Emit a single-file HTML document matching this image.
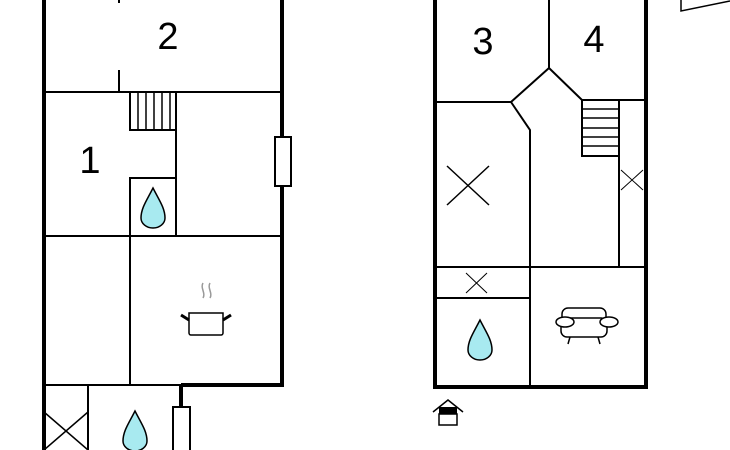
<!DOCTYPE html>
<html><head><style>body{margin:0;background:#fff}svg{display:block}text{font-family:"Liberation Sans",sans-serif;font-size:38px;fill:#000;text-anchor:middle}</style></head><body>
<svg width="730" height="450" viewBox="0 0 730 450" fill="none" stroke="#000" stroke-width="2">
<!-- LEFT PLAN -->
<line x1="44" y1="0" x2="44" y2="450" stroke-width="4"/>
<line x1="282" y1="0" x2="282" y2="387" stroke-width="4"/>
<line x1="44" y1="92" x2="282" y2="92"/>
<line x1="119" y1="0" x2="119" y2="3"/>
<line x1="119" y1="70" x2="119" y2="92"/>
<rect x="130" y="92" width="46" height="38"/>
<path d="M138 92V130M146 92V130M154 92V130M162 92V130M170 92V130" stroke-width="1.5"/>
<line x1="176" y1="92" x2="176" y2="236"/>
<rect x="130" y="178" width="46" height="58"/>
<line x1="44" y1="236" x2="282" y2="236"/>
<rect x="275" y="137" width="16" height="49" fill="#fff"/>
<line x1="130" y1="236" x2="130" y2="385"/>
<line x1="44" y1="385" x2="284" y2="385" stroke-width="2"/>
<line x1="181" y1="385" x2="284" y2="385" stroke-width="4"/>
<line x1="181" y1="384" x2="181" y2="408" stroke-width="4"/>
<rect x="173" y="407" width="17" height="45" fill="#fff"/>
<line x1="88" y1="385" x2="88" y2="450"/>
<path d="M44 412L88 450M88 412L44 450" stroke-width="1.5"/>
<text x="168" y="49" stroke="none">2</text>
<text x="90" y="173" stroke="none">1</text>
<!-- drops -->
<path d="M153 188C147 200 141 208 141 218A12 10 0 0 0 165 218C165 208 159 200 153 188Z" fill="#a8eaf0" stroke-width="1.5"/>
<path d="M135 411C129 423 123 431 123 441A12 10 0 0 0 147 441C147 431 141 423 135 411Z" fill="#a8eaf0" stroke-width="1.5"/>
<path d="M480 320C474 332 468 340 468 350A12 10 0 0 0 492 350C492 340 486 332 480 320Z" fill="#a8eaf0" stroke-width="1.5"/>
<!-- pot -->
<path d="M203 283c-3 5 3 10 0 15M210 283c-3 5 3 10 0 15" stroke="#999" stroke-width="1.5"/>
<path d="M189 313h34v20a2 2 0 0 1-2 2h-30a2 2 0 0 1-2-2z" stroke-width="1.5"/>
<path d="M189 320l-8-5M223 320l8-5" stroke-width="3"/>
<!-- RIGHT PLAN -->
<path d="M435 0V387H646V0" stroke-width="4"/>
<line x1="549" y1="0" x2="549" y2="68"/>
<path d="M435 102H511L549 68L582 100H646"/>
<path d="M511 102L530 130V267"/>
<rect x="582" y="100" width="37" height="56"/>
<path d="M582 109H619M582 118H619M582 128H619M582 137H619M582 146H619" stroke-width="1.5"/>
<line x1="619" y1="100" x2="619" y2="267"/>
<path d="M621 170L643 190M643 170L621 190" stroke-width="1"/>
<path d="M447 166L489 205M489 166L447 205" stroke-width="1.5"/>
<line x1="435" y1="267" x2="646" y2="267"/>
<line x1="435" y1="298" x2="530" y2="298"/>
<path d="M466 273L487 293M487 273L466 293" stroke-width="1"/>
<line x1="530" y1="267" x2="530" y2="387"/>
<text x="483" y="54" stroke="none">3</text>
<text x="594" y="52" stroke="none">4</text>
<!-- sofa -->
<g stroke-width="1.5">
<rect x="562" y="308" width="44" height="18" rx="6"/>
<rect x="561" y="318" width="46" height="19" rx="6" fill="#fff"/>
<ellipse cx="565" cy="322" rx="9" ry="5" fill="#fff"/>
<ellipse cx="609" cy="322" rx="9" ry="5" fill="#fff"/>
<path d="M570 337l-2 7M598 337l2 7"/>
</g>
<!-- house icon -->
<path d="M433 412L448 400L463 412" stroke-width="1.5"/>
<rect x="439" y="407" width="18" height="7" fill="#000" stroke="none"/>
<rect x="439" y="414" width="18" height="11" stroke-width="1.5"/>
<!-- top right shape -->
<path d="M681 0V11L730 1" stroke-width="1.5"/>
</svg>
</body></html>
